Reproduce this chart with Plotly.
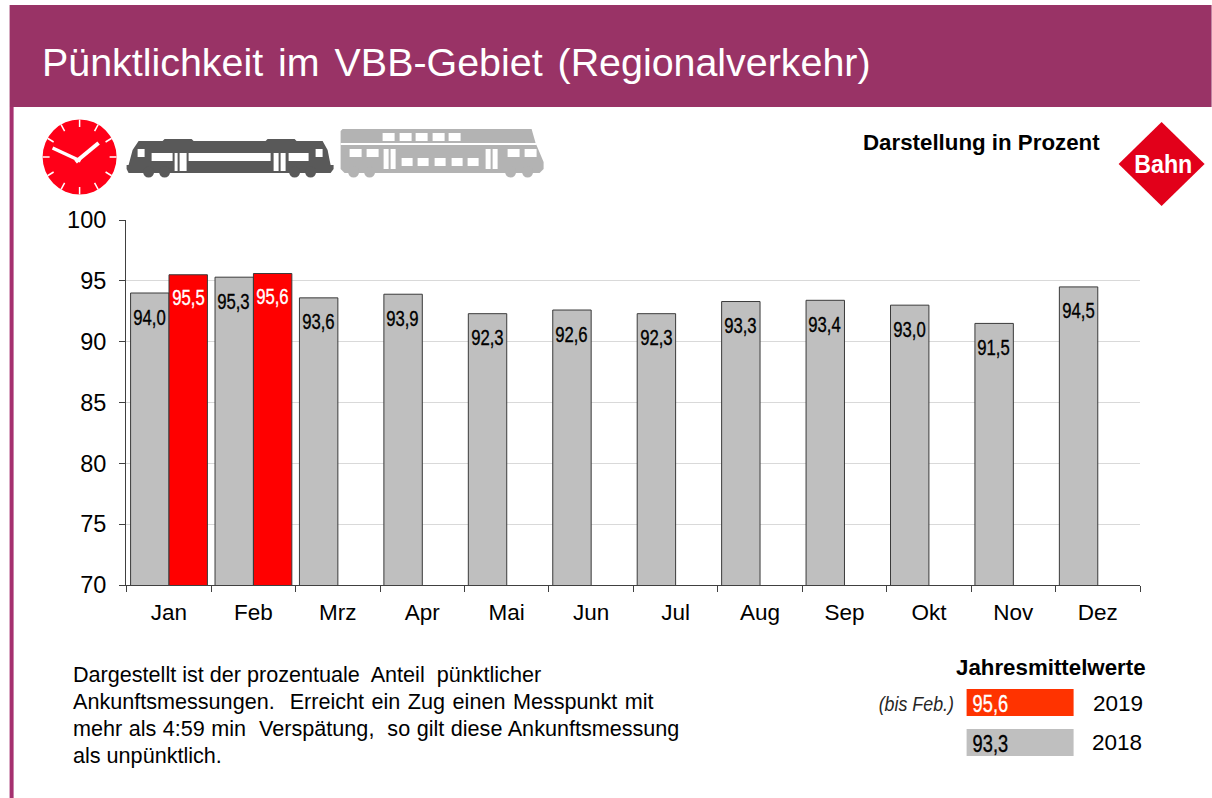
import math
import plotly.graph_objects as go

months = ["Jan", "Feb", "Mrz", "Apr", "Mai", "Jun", "Jul", "Aug", "Sep", "Okt", "Nov", "Dez"]
values_2018 = [94.0, 95.3, 93.6, 93.9, 92.3, 92.6, 92.3, 93.3, 93.4, 93.0, 91.5, 94.5]
values_2019 = [95.5, 95.6, None, None, None, None, None, None, None, None, None, None]
y_ticks = [70, 75, 80, 85, 90, 95, 100]
mean_2019 = "95,6"
mean_2018 = "93,3"
title_text = "Pünktlichkeit im VBB-Gebiet (Regionalverkehr)"
note_lines = [
    "Dargestellt ist der prozentuale  Anteil  pünktlicher",
    "Ankunftsmessungen.  Erreicht ein Zug einen Messpunkt mit",
    "mehr als 4:59 min  Verspätung,  so gilt diese Ankunftsmessung",
    "als unpünktlich.",
]

W, H = 1212, 798
L, R, T, B = 126.4, 1140.4, 220, 585
SANS = "Liberation Sans, Arial, sans-serif"


def px(x):
    return (x - L) / (R - L)


def py(y):
    return (B - y) / (B - T)


def path(points):
    return "M " + " L ".join(f"{px(x):.5f},{py(y):.5f}" for x, y in points) + " Z"


shapes = []


def add_poly(points, color):
    shapes.append(dict(type="path", xref="paper", yref="paper", path=path(points),
                       fillcolor=color, line=dict(width=0), layer="above"))


def add_rect(x0, y0, x1, y1, color):
    shapes.append(dict(type="rect", xref="paper", yref="paper", x0=px(x0), x1=px(x1),
                       y0=py(y0), y1=py(y1), fillcolor=color, line=dict(width=0), layer="above"))


def add_line(x0, y0, x1, y1, color, width):
    shapes.append(dict(type="line", xref="paper", yref="paper", x0=px(x0), x1=px(x1),
                       y0=py(y0), y1=py(y1), line=dict(color=color, width=width), layer="above"))


def add_ellipse(cx, cy, rx, ry, color):
    shapes.append(dict(type="circle", xref="paper", yref="paper", x0=px(cx - rx), x1=px(cx + rx),
                       y0=py(cy - ry), y1=py(cy + ry), fillcolor=color, line=dict(width=0), layer="above"))


# header and left strip
add_rect(10, 5, 1212, 107, "#993366")
add_rect(10, 107, 14, 798, "#A5306F")

# clock
add_ellipse(80, 157, 37, 37.5, "#FF0018")
for i in range(12):
    a = math.radians(i * 30)
    add_line(80 + 30 * math.sin(a), 157 - 30 * math.cos(a), 80 + 37 * math.sin(a), 157 - 37.5 * math.cos(a), "white", 1.5)
add_line(76, 162, 99, 143, "white", 4)
add_line(81, 161, 53, 148, "white", 3.5)

# dark train
DK = "#595959"
add_poly([(127, 165), (129, 165), (133, 150), (139, 141), (163, 141), (165, 139), (192, 139), (194, 141),
          (266, 141), (268, 139), (295, 139), (297, 141), (323, 141), (328, 150), (331, 165), (334, 165),
          (334, 169), (331, 173), (129, 173), (127, 169)], DK)
for cx in (149, 165, 295, 311):
    add_ellipse(cx, 172, 5.5, 5.5, DK)
for x0, x1, y0, y1 in [(152, 173, 153, 161), (189, 271, 153, 161), (289, 309, 153, 161),
                       (138, 145, 149, 157), (316, 323, 149, 157), (175, 178, 153, 171),
                       (180, 187, 153, 171), (274, 279, 153, 171), (281, 286, 153, 171)]:
    add_rect(x0, y0, x1, y1, "white")

# light train
LT = "#B3B3B3"
add_poly([(343, 129), (532, 129), (536, 143), (544, 162), (544, 169), (540, 173), (345, 173), (341, 169), (341, 131)], LT)
for cx in (354, 370, 511, 528):
    add_ellipse(cx, 172, 5.5, 5.5, LT)
add_rect(341, 143, 537, 145, "white")
for x0 in (383, 400, 416, 433, 449):
    add_rect(x0, 133, x0 + 12, 141, "white")
for x0 in (350, 367, 508, 525):
    add_rect(x0, 149, x0 + 12, 157, "white")
for x0 in (402, 418, 435, 452, 468):
    add_rect(x0, 158, x0 + 11, 166, "white")
for x0 in (384, 391, 486, 493):
    add_rect(x0, 149, x0 + 5, 169, "white")

# Bahn logo
add_poly([(1119, 164), (1162, 122), (1205, 164), (1162, 206)], "#E2001A")

# legend boxes
add_rect(967, 689, 1074, 716, "#FF3300")
add_rect(967, 729, 1074, 756, "#BFBFBF")

annotations = []


def add_text(x, y, text, size, color="black", anchor="left", **kw):
    annotations.append(dict(xref="paper", yref="paper", x=px(x), y=py(y), text=text, showarrow=False,
                            xanchor=anchor, yanchor="middle", align=anchor,
                            font=dict(size=size, color=color, family=SANS), **kw))


add_text(40, 62, title_text, 39.4, "white")
add_text(1102, 142, "<b>Darstellung in Prozent</b>", 22.3, anchor="right")
add_text(1163.5, 164, "<b>Bahn</b>", 25, "white", anchor="center")
for line, y in zip(note_lines, (674, 701, 728, 755)):
    add_text(71, y, line, 21.6)
add_text(1148, 667, "<b>Jahresmittelwerte</b>", 22.3, anchor="right")
add_text(917, 703, "<i>(bis Feb.)</i>", 21, color="#262626", anchor="center")
add_text(990.5, 703, mean_2019, 24, "white", anchor="center")
add_text(990.5, 743, mean_2018, 24, "black", anchor="center")
add_text(1145, 703, "2019", 22.5, anchor="right")
add_text(1144, 742, "2018", 22.5, anchor="right")

# value labels on the bars
for month, v in zip(months, values_2018):
    annotations.append(dict(x=month, y=v, xref="x", yref="y", text=f"{v:.1f}".replace(".", ","),
                            showarrow=False, xshift=-19.5, yshift=-24, yanchor="middle",
                            font=dict(size=22, color="black", family=SANS)))
for month, v in zip(months, values_2019):
    if v is not None:
        annotations.append(dict(x=month, y=v, xref="x", yref="y", text=f"{v:.1f}".replace(".", ","),
                                showarrow=False, xshift=19.5, yshift=-23, yanchor="middle",
                                font=dict(size=22, color="white", family=SANS)))

fig = go.Figure()
fig.add_bar(name="2018", x=months, y=values_2018, marker=dict(color="#BFBFBF", line=dict(color="#3A3A3A", width=1)))
fig.add_bar(name="2019", x=months, y=values_2019, marker=dict(color="#FF0000", line=dict(color="#3A3A3A", width=1)))

fig.update_layout(
    width=W, height=H, autosize=False, showlegend=False,
    barmode="group", bargap=0.09, bargroupgap=0,
    margin=dict(l=L, r=W - R, t=T, b=H - B, pad=0),
    paper_bgcolor="white", plot_bgcolor="white",
    font=dict(family=SANS, color="black"),
    shapes=shapes, annotations=annotations,
)
fig.update_xaxes(type="category", categoryorder="array", categoryarray=months,
                 showline=True, linecolor="#404040", linewidth=1,
                 ticks="outside", ticklen=6, tickcolor="#404040", tickson="boundaries", ticklabelstandoff=7,
                 tickfont=dict(size=22.5, family=SANS, color="black"), showgrid=False)
fig.update_yaxes(range=[70, 100], tickvals=y_ticks, showline=True, linecolor="#404040", linewidth=1,
                 ticks="outside", ticklen=6, tickcolor="#404040", ticklabelstandoff=8,
                 tickfont=dict(size=23.5, family=SANS, color="black"),
                 showgrid=True, gridcolor="#D9D9D9", gridwidth=1, zeroline=False)

# The reference sets its value labels in a narrow face; none is installed, so narrow the real text.
post = """
document.body.style.margin='0';document.body.style.overflow='hidden';
function narrow(){
  document.querySelectorAll('.annotation-text').forEach(function(t){
    var s=t.textContent, f=null, st=0;
    if(/^\\d\\d,\\d$/.test(s)){f=0.76;st=0.35;}
    else if(s==='Bahn') f=0.93;
    else if(s==='(bis Feb.)') f=0.85;
    if(f){t.style.transformBox='fill-box';t.style.transformOrigin='center';t.style.transform='scaleX('+f+')';}
    if(st){t.style.stroke=getComputedStyle(t).fill;t.style.strokeWidth=st+'px';}
    if(s.indexOf('Pünktlichkeit')===0) t.style.wordSpacing='4px';
    if(s.indexOf('Ankunftsmessungen')===0) t.style.wordSpacing='1.5px';
    if(s.indexOf('mehr als')===0) t.style.wordSpacing='0.5px';
  });
}
narrow();setTimeout(narrow,100);
"""
fig.write_html("out.html", config=dict(displayModeBar=False), post_script=post)
